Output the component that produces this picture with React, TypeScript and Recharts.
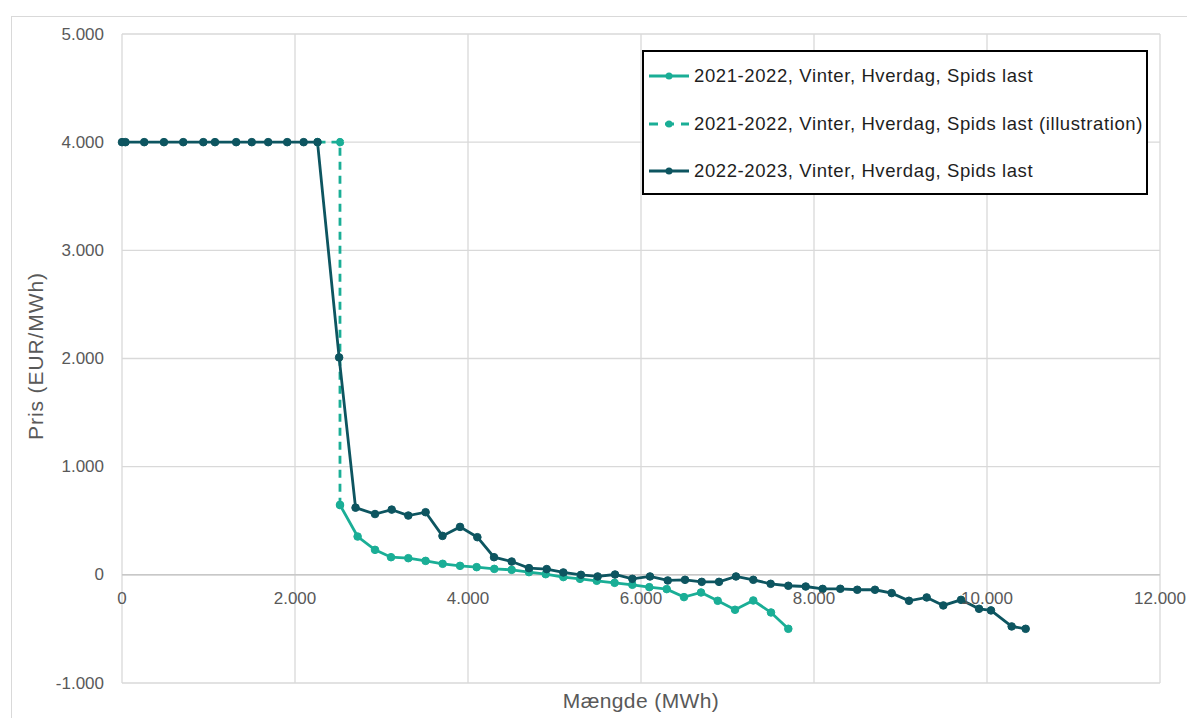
import React from 'react'
import { LineChart, Line, XAxis, YAxis, CartesianGrid, ReferenceLine } from 'recharts'

const LIGHT = '#1AAE96'
const DARK = '#0D5560'

// 2022-2023, Vinter, Hverdag, Spids last
const x2223 = [0, 40, 257, 485, 708, 940, 1075, 1320, 1500, 1690, 1910, 2100, 2260, 2510, 2700, 2925, 3118, 3310, 3510, 3705, 3908, 4108, 4301, 4505, 4705, 4910, 5102, 5306, 5499, 5700, 5900, 6104, 6309, 6509, 6702, 6902, 7098, 7298, 7499, 7703, 7904, 8100, 8304, 8500, 8705, 8898, 9098, 9303, 9495, 9700, 9908, 10046, 10285, 10447]
const y2223 = [4000, 4000, 4000, 4000, 4000, 4000, 4000, 4000, 4000, 4000, 4000, 4000, 4000, 2010, 621, 562, 603, 548, 579, 360, 443, 348, 163, 123, 62, 53, 22, 0, -15, 3, -37, -15, -52, -46, -65, -65, -15, -46, -83, -101, -108, -130, -129, -138, -138, -169, -240, -209, -283, -231, -314, -329, -477, -499]

// 2021-2022, Vinter, Hverdag, Spids last
const x2122 = [2520, 2724, 2925, 3110, 3310, 3510, 3707, 3908, 4100, 4304, 4505, 4705, 4898, 5102, 5295, 5488, 5695, 5900, 6096, 6297, 6497, 6694, 6887, 7087, 7298, 7503, 7703]
const y2122 = [646, 354, 231, 163, 154, 129, 102, 83, 71, 55, 46, 25, 6, -21, -37, -55, -74, -92, -114, -132, -206, -163, -240, -323, -237, -348, -499]

// illustration
const xIll = [2260, 2520, 2520]
const yIll = [4000, 4000, 646]

const xTicks = [0, 2000, 4000, 6000, 8000, 10000, 12000]
const yTicks = [-1000, 0, 1000, 2000, 3000, 4000, 5000]

const toRows = (xs: number[], ys: number[]) => xs.map((x, i) => ({ x, y: ys[i] }))
const d2223 = toRows(x2223, y2223)
const d2122 = toRows(x2122, y2122)
const dIll = toRows(xIll, yIll)

const fmt = (v: number) => {
  const s = Math.abs(v).toString().replace(/\B(?=(\d{3})+(?!\d))/g, '.')
  return v < 0 ? '-' + s : s
}

const FONT = '"Liberation Sans", Arial, sans-serif'
const TOP = 34
const PLOT_H = 649
const ZERO_Y = TOP + PLOT_H * 5000 / 6000

const XTick = (p: any) => (
  <text x={p.x} y={ZERO_Y + 24} textAnchor="middle" dominantBaseline="central" fill="#595959" fontSize={17} fontFamily={FONT}>
    {fmt(p.payload.value)}
  </text>
)
const YTick = (p: any) => (
  <text x={104} y={p.y} textAnchor="end" dominantBaseline="central" fill="#595959" fontSize={17} fontFamily={FONT}>
    {fmt(p.payload.value)}
  </text>
)

const items = [
  { name: '2021-2022, Vinter, Hverdag, Spids last', color: LIGHT, dash: false },
  { name: '2021-2022, Vinter, Hverdag, Spids last (illustration)', color: LIGHT, dash: true },
  { name: '2022-2023, Vinter, Hverdag, Spids last', color: DARK, dash: false },
]

const LegendBox = () => (
  <div style={{ position: 'absolute', left: 642, top: 50, border: '2px solid #000', width: 506, height: 145, boxSizing: 'border-box', fontFamily: FONT, fontSize: 18.5, letterSpacing: 0.6, color: '#1e1e1e', background: '#fff' }}>
    {items.map((it, i) => (
      <div key={it.name} style={{ position: 'absolute', left: 0, top: 24 + i * 47.5, transform: 'translateY(-50%)', display: 'flex', alignItems: 'center', whiteSpace: 'nowrap' }}>
        <svg width={46} height={10} style={{ marginLeft: 4 }}>
          <line x1={1} y1={5} x2={41} y2={5} stroke={it.color} strokeWidth={3} strokeDasharray={it.dash ? '9 7' : undefined} />
          <circle cx={21} cy={5} r={3.5} fill={it.color} />
        </svg>
        <span>{it.name}</span>
      </div>
    ))}
  </div>
)

export default function App() {
  return (
    <div style={{ position: 'fixed', left: 0, top: 0, width: 1187, height: 718, overflow: 'hidden', background: '#fff' }}>
      <div style={{ position: 'absolute', left: 11, top: 16, width: 1200, height: 720, borderLeft: '1px solid #d9d9d9', borderTop: '1px solid #d9d9d9' }} />
      <LineChart width={1187} height={718} margin={{ top: TOP, right: 27, bottom: 0, left: 0 }} style={{ position: 'absolute', left: 0, top: 0 }}>
        <CartesianGrid stroke="#d9d9d9" strokeWidth={1.3} />
        <XAxis
          type="number"
          dataKey="x"
          domain={[0, 12000]}
          ticks={xTicks}
          height={35}
          axisLine={false}
          tickLine={false}
          tick={XTick}
          label={{
            content: () => (
              <text x={641} y={700} textAnchor="middle" dominantBaseline="central" fill="#595959" fontSize={21} letterSpacing={0.4} fontFamily={FONT}>Mængde (MWh)</text>
            ),
          }}
        />
        <YAxis
          type="number"
          domain={[-1000, 5000]}
          ticks={yTicks}
          width={122}
          axisLine={false}
          tickLine={false}
          tick={YTick}
          label={{
            content: () => (
              <text x={35} y={356} transform="rotate(-90 35 356)" textAnchor="middle" dominantBaseline="central" fill="#595959" fontSize={21} letterSpacing={0.9} fontFamily={FONT}>Pris (EUR/MWh)</text>
            ),
          }}
        />
        <ReferenceLine y={0} stroke="#c8c8c8" strokeWidth={1.5} />
        <Line data={dIll} dataKey="y" name={items[1].name} stroke={LIGHT} strokeWidth={2.8} strokeDasharray="8 6" dot={{ r: 3.8, fill: LIGHT, stroke: LIGHT, strokeWidth: 1 }} isAnimationActive={false} />
        <Line data={d2122} dataKey="y" name={items[0].name} stroke={LIGHT} strokeWidth={2.8} dot={{ r: 3.8, fill: LIGHT, stroke: LIGHT, strokeWidth: 1 }} isAnimationActive={false} />
        <Line data={d2223} dataKey="y" name={items[2].name} stroke={DARK} strokeWidth={2.8} dot={{ r: 3.8, fill: DARK, stroke: DARK, strokeWidth: 1 }} isAnimationActive={false} />
      </LineChart>
      <LegendBox />
    </div>
  )
}
